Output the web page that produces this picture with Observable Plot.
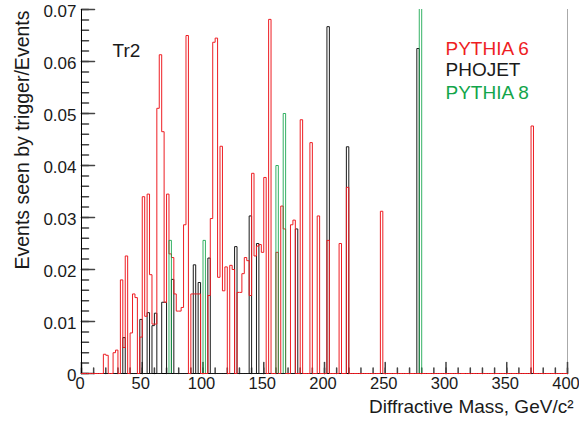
<!DOCTYPE html>
<html><head><meta charset="utf-8">
<script src="https://cdn.jsdelivr.net/npm/d3@7"></script>
<script src="https://cdn.jsdelivr.net/npm/@observablehq/plot@0.6"></script>
<style>body{margin:0;background:#fff} svg{display:block}</style>
</head><body><div id="chart"></div>
<script>
// ---- data (bin low edges in GeV/c^2, bin width 2) ----
const binWidth = 2;
const pythia6Bins = [18,20,26,28,32,34,36,40,42,44,48,50,52,54,56,58,60,62,64,66,68,70,72,74,76,78,80,82,84,86,90,92,94,96,104,106,108,110,112,114,116,118,122,124,128,130,132,134,136,138,140,142,144,146,148,150,154,160,164,166,172,174,180,188,194,202,212,218,246,370];
const pythia6Values = [0.0037,0.0035,0.0040,0.0045,0.0180,0.0050,0.0226,0.0078,0.0153,0.0146,0.0070,0.0340,0.0110,0.0345,0.0190,0.0095,0.0095,0.0510,0.0613,0.0465,0.0137,0.0345,0.0230,0.0223,0.0153,0.0120,0.0120,0.0127,0.0286,0.0650,0.0153,0.0153,0.0153,0.0153,0.0150,0.0298,0.0637,0.0645,0.0185,0.0437,0.0159,0.0205,0.0208,0.0200,0.0156,0.0156,0.0192,0.0223,0.0217,0.0150,0.0385,0.0226,0.0245,0.0248,0.0233,0.0377,0.0681,0.0233,0.0322,0.0278,0.0286,0.0295,0.0488,0.0444,0.0303,0.0256,0.0250,0.0358,0.0312,0.0476];
const phojetBins = [34,48,54,58,60,66,68,74,92,96,104,126,138,144,176,202,218,276];
const phojetValues = [0.0069,0.0104,0.0117,0.0092,0.0116,0.0137,0.0137,0.0181,0.0209,0.0175,0.0222,0.0244,0.0303,0.0250,0.0278,0.0667,0.0436,0.0625];
const pythia8Bins = [72,100,160,166,278];
const pythia8Values = [0.0256,0.0256,0.0400,0.0500,0.0750];

const xMajorTicks = [0,50,100,150,200,250,300,350,400];
const yMajorTicks = [0,0.01,0.02,0.03,0.04,0.05,0.06,0.07];
const xMinorTicks = d3.range(0, 401, 10);
const yMinorTicks = d3.range(0, 0.0701, 0.002);

const legendLabels = ["PYTHIA 6","PHOJET","PYTHIA 8"];
const RED = "#ee1d23", BLACK = "#1a1a1a", GREEN = "#12a54a";
const legendColors = [RED, BLACK, GREEN];
const xTitle = "Diffractive Mass, GeV/c²";
const yTitle = "Events seen by trigger/Events";
const panelLabel = "Tr2";

function toSteps(bins, values) {
  const m = new Map(bins.map((b, i) => [b, values[i]]));
  const pts = [];
  for (let x = 0; x < 400; x += binWidth) pts.push({x, y: m.get(x) ?? 0});
  pts.push({x: 400, y: 0});
  return pts;
}
const red = toSteps(pythia6Bins, pythia6Values);
const black = toSteps(phojetBins, phojetValues);
const green = toSteps(pythia8Bins, pythia8Values);

const tickShape = {draw(ctx, l) { ctx.moveTo(0, 0); ctx.lineTo(0, -l); }};
const FONT = "'Liberation Sans', Arial, Helvetica, sans-serif";

const legendMarks = legendLabels.map((t, i) => Plot.text([t], {
  frameAnchor: "top-left", textAnchor: "start", lineAnchor: "bottom",
  dx: 364, dy: [45.3, 66.3, 89.6][i], fill: legendColors[i], fontSize: 19
}));

const chart = Plot.plot({
  width: 579, height: 423,
  marginLeft: 81, marginRight: 12, marginTop: 9, marginBottom: 50,
  style: {fontFamily: FONT, fontSize: "17px", color: "#1a1a1a", background: "#fff", overflow: "visible"},
  x: {domain: [0, 400]},
  y: {domain: [0, 0.07]},
  marks: [
    Plot.axisX({ticks: xMajorTicks, tickSize: 0, tickPadding: 4, label: null, fontSize: 16.5, dx: -1.5, tickFormat: d => String(d)}),
    Plot.axisY({ticks: yMajorTicks, tickSize: 0, tickPadding: 5, label: null, fontSize: 17, dy: 2.5, tickFormat: d => d === 0 ? "0" : d.toFixed(2)}),
    Plot.ruleX([400], {stroke: "#aaa"}),
    Plot.vector(xMinorTicks, {x: d => d, y: 0, length: 5.5, rotate: 0, anchor: "start", shape: tickShape, stroke: "#444"}),
    Plot.vector(xMajorTicks, {x: d => d, y: 0, length: 11, rotate: 0, anchor: "start", shape: tickShape, stroke: "#444"}),
    Plot.vector(yMinorTicks, {x: 0, y: d => d, length: 7, rotate: 90, anchor: "start", shape: tickShape, stroke: "#444"}),
    Plot.vector(yMajorTicks, {x: 0, y: d => d, length: 13, rotate: 90, anchor: "start", shape: tickShape, stroke: "#444"}),
    Plot.ruleX([0], {stroke: "#000"}),
    Plot.ruleY([0], {stroke: "#000"}),
    Plot.line(black, {x: "x", y: "y", curve: "step-after", stroke: BLACK, strokeWidth: 1}),
    Plot.line(red, {x: "x", y: "y", curve: "step-after", stroke: RED, strokeWidth: 1}),
    Plot.line(green, {x: "x", y: "y", curve: "step-after", stroke: GREEN, strokeWidth: 1, strokeOpacity: 0.85, clip: true}),
    Plot.text([panelLabel], {frameAnchor: "top-left", textAnchor: "start", lineAnchor: "bottom", dx: 31, dy: 47.3, fontSize: 19, fill: "#1a1a1a"}),
    ...legendMarks,
    Plot.text([xTitle], {frameAnchor: "bottom-right", textAnchor: "end", lineAnchor: "bottom", dx: 6, dy: 39, fontSize: 19, fill: "#1a1a1a"}),
    Plot.text([yTitle], {frameAnchor: "top-left", textAnchor: "end", lineAnchor: "bottom", rotate: -90, dx: -53, dy: 1, fontSize: 19.5, fill: "#1a1a1a"})
  ]
});
document.getElementById("chart").appendChild(chart);
</script>
</body></html>
